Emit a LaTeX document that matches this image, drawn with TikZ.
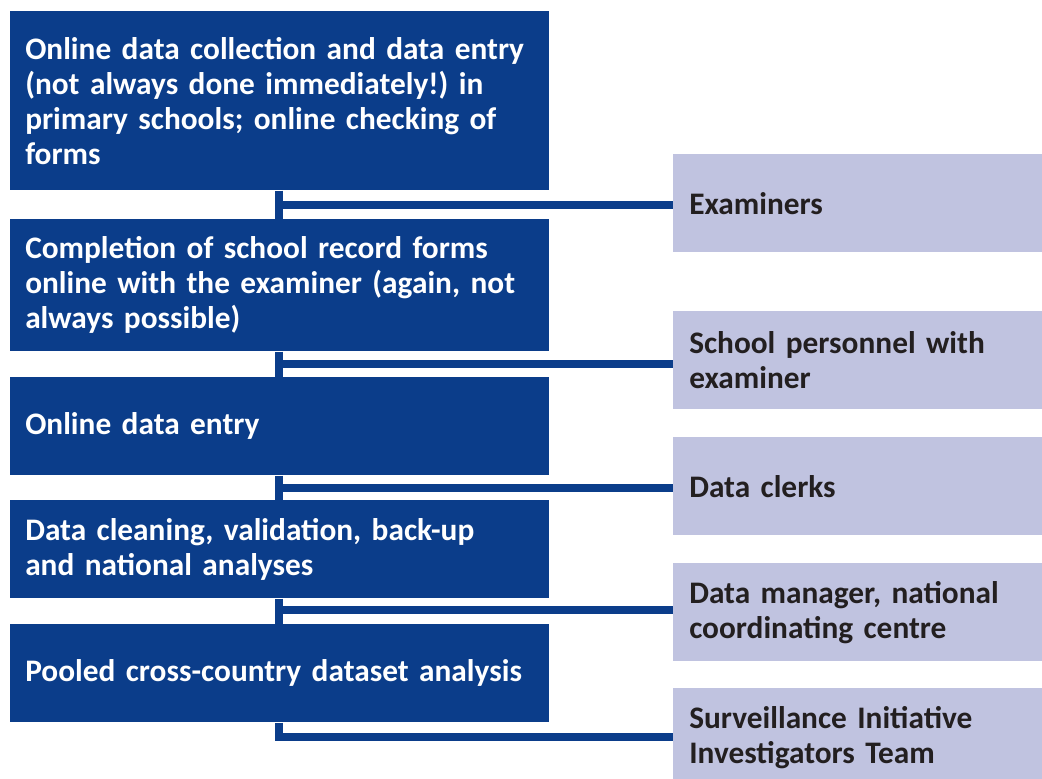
\documentclass[tikz,border=0pt]{standalone}
\usepackage{fontspec}
\setmainfont{Carlito}
\frenchspacing
\definecolor{navy}{RGB}{11,61,138}
\definecolor{lav}{RGB}{192,195,224}
\definecolor{ink}{RGB}{35,31,32}
\begin{document}
\begin{tikzpicture}[x=0.75pt,y=-0.75pt,
  txt/.style={font=\bfseries\fontsize{23.5}{26.25}\selectfont, anchor=north west, align=left, inner ysep=0pt},
  stepbox/.style={txt, fill=navy, text=white, minimum width=404.25pt, text width=381.75pt, inner xsep=11.25pt},
  rolebox/.style={txt, fill=lav, text=ink, minimum width=276.75pt, minimum height=73.5pt, text width=252.75pt, inner xsep=12pt},
  link/.style={draw=navy, line width=6pt, line join=miter}]
\clip (0,0) rectangle (1042,778);
\node[stepbox, minimum height=134.25pt] (b1) at (10,11) {Online data collection and data entry\\(not always done immediately!) in\\primary schools; online checking of\\forms};
\node[stepbox, minimum height=99pt] (b2) at (10,219) {Completion of school record forms\\online with the examiner (again, not\\always possible)};
\node[stepbox, minimum height=73.5pt] (b3) at (10,377) {Online data entry};
\node[stepbox, minimum height=73.5pt] (b4) at (10,500) {Data cleaning, validation, back-up\\and national analyses};
\node[stepbox, minimum height=73.5pt] (b5) at (10,624) {Pooled cross-country dataset analysis};
\node[rolebox] (r1) at (673,154) {Examiners};
\node[rolebox] (r2) at (673,311) {School personnel with\\examiner};
\node[rolebox] (r3) at (673,437) {Data clerks};
\node[rolebox] (r4) at (673,563) {Data manager, national\\coordinating centre};
\node[rolebox] (r5) at (673,688) {Surveillance Initiative\\Investigators Team};
\coordinate (j1) at (279,205);
\coordinate (j2) at (279,364);
\coordinate (j3) at (279,488);
\coordinate (j4) at (279,610);
\coordinate (j5) at (279,737);
\draw[link] (b1.south -| j1) -- (b2.north -| j1);
\draw[link] (j1) -- (j1 -| r1.west);
\draw[link] (b2.south -| j2) -- (b3.north -| j2);
\draw[link] (j2) -- (j2 -| r2.west);
\draw[link] (b3.south -| j3) -- (b4.north -| j3);
\draw[link] (j3) -- (j3 -| r3.west);
\draw[link] (b4.south -| j4) -- (b5.north -| j4);
\draw[link] (j4) -- (j4 -| r4.west);
\draw[link] (b5.south -| j5) -- (j5) -- (j5 -| r5.west);
\end{tikzpicture}
\end{document}
